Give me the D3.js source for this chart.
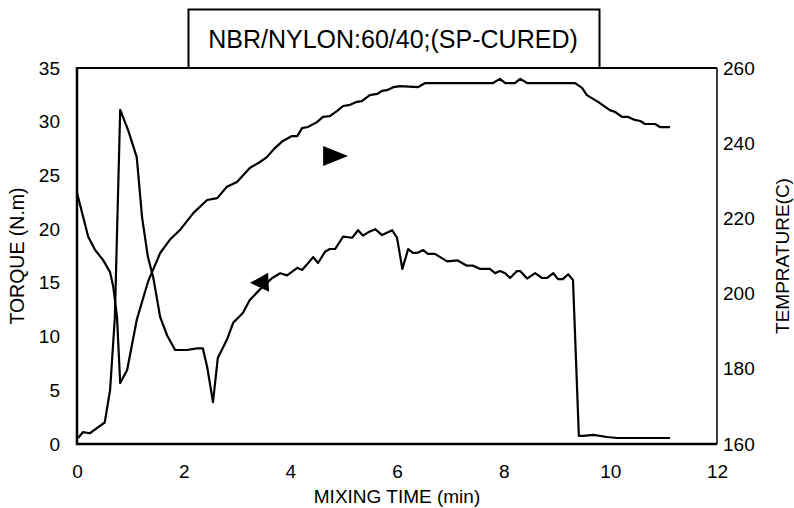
<!DOCTYPE html>
<html>
<head>
<meta charset="utf-8">
<script src="https://cdn.jsdelivr.net/npm/d3@7"></script>
<style>
  html, body { margin: 0; padding: 0; background: #fff; }
  svg { display: block; }
  text { font-family: "Liberation Sans", Arial, sans-serif; fill: #000; }
</style>
</head>
<body>
<svg id="chart" width="794" height="508"></svg>
<script>
// Mixing torque (N.m) against time (min)
const torqueTime = [
  0.02, 0.11, 0.24, 0.38, 0.52, 0.62, 0.71, 0.81, 0.96, 1.12,
  1.22, 1.33, 1.43, 1.56, 1.69, 1.84, 2.06, 2.25, 2.36, 2.44,
  2.55, 2.64, 2.81, 2.93, 3.11, 3.24, 3.47, 3.56, 3.66, 3.81,
  3.94, 4.13, 4.22, 4.31, 4.43, 4.52, 4.65, 4.74, 4.84, 4.99,
  5.16, 5.27, 5.36, 5.46, 5.59, 5.72, 5.91, 6.00, 6.10, 6.21,
  6.30, 6.39, 6.49, 6.58, 6.71, 6.81, 6.94, 7.13, 7.31, 7.43,
  7.56, 7.74, 7.84, 7.93, 8.03, 8.12, 8.25, 8.31, 8.44, 8.59,
  8.72, 8.81, 8.93, 9.02, 9.11, 9.21, 9.30, 9.41, 9.49, 9.68,
  9.94, 10.13, 10.56, 11.12
];
const torqueValues = [
  0.56, 1.1, 1.0, 1.5, 2.0, 5.0, 11.8, 31.1, 29.2, 26.7,
  21.1, 17.4, 15.5, 11.8, 10.1, 8.75, 8.75, 8.9, 8.9, 7.2,
  3.9, 8.0, 9.7, 11.3, 12.2, 13.4, 14.6, 15.0, 15.45, 15.9,
  15.7, 16.4, 16.2, 16.7, 17.4, 16.85, 17.9, 18.15, 18.15, 19.3,
  19.2, 19.9, 19.4, 19.7, 20.0, 19.45, 19.9, 19.2, 16.3, 18.15,
  17.8, 17.8, 18.05, 17.7, 17.7, 17.4, 17.0, 17.1, 16.6, 16.6,
  16.3, 16.3, 15.9, 16.1, 15.9, 15.45, 16.1, 16.1, 15.4, 15.9,
  15.45, 15.45, 15.9, 15.35, 15.35, 15.8, 15.25, 0.75, 0.75, 0.85,
  0.65, 0.56, 0.56, 0.56
];

// Stock temperature (C) against time (min)
const tempTime = [
  0.00, 0.21, 0.34, 0.49, 0.62, 0.68, 0.75, 0.81, 0.94, 1.12,
  1.33, 1.56, 1.74, 1.93, 2.18, 2.44, 2.63, 2.81, 3.00, 3.24,
  3.43, 3.56, 3.71, 3.86, 4.03, 4.13, 4.22, 4.33, 4.50, 4.61,
  4.74, 4.88, 4.99, 5.12, 5.25, 5.34, 5.49, 5.63, 5.72, 5.81,
  5.93, 6.06, 6.39, 6.53, 7.80, 7.93, 8.03, 8.21, 8.31, 8.44,
  9.34, 9.47, 9.56, 9.77, 9.99, 10.09, 10.22, 10.33, 10.46, 10.56,
  10.65, 10.84, 10.93, 11.12
];
const tempValues = [
  226.8, 215.1, 211.6, 208.9, 205.7, 201.8, 193.8, 176.2, 179.7, 193.0,
  203.1, 210.8, 214.3, 216.9, 221.4, 224.9, 225.4, 228.4, 229.7, 233.4,
  235.0, 236.3, 238.7, 240.6, 241.9, 241.9, 244.0, 244.3, 245.6, 247.0,
  247.2, 248.6, 249.9, 250.2, 251.0, 251.2, 252.8, 253.1, 253.9, 254.1,
  254.9, 255.2, 254.9, 256.0, 256.0, 257.1, 256.0, 256.0, 257.1, 256.0,
  256.0, 254.7, 252.8, 251.0, 248.8, 248.3, 247.0, 247.0, 246.2, 245.9,
  245.1, 245.1, 244.3, 244.3
];

// Axis ticks
const timeTicks = [0, 2, 4, 6, 8, 10, 12];
const torqueTicks = [0, 5, 10, 15, 20, 25, 30, 35];
const tempTicks = [160, 180, 200, 220, 240, 260];

// Direction markers: which curve reads on which axis
const torqueMarker = { time: 3.47, value: 15.0 };
const tempMarker = { time: 4.84, value: 236.6 };

const chartTitle = "NBR/NYLON:60/40;(SP-CURED)";

const svg = d3.select("#chart");
const plotLeft = 77, plotRight = 717, plotTop = 68, plotBottom = 444;

const x = d3.scaleLinear().domain([0, 12]).range([plotLeft, plotRight]);
const yT = d3.scaleLinear().domain([0, 35]).range([plotBottom, plotTop]);
const yC = d3.scaleLinear().domain([160, 260]).range([plotBottom, plotTop]);

// Title box sitting on the plot frame
svg.append("rect")
  .attr("x", 188.5).attr("y", 9.5)
  .attr("width", 411).attr("height", plotTop - 9.5)
  .attr("fill", "#fff").attr("stroke", "#000").attr("stroke-width", 2);
svg.append("text")
  .attr("x", 393).attr("y", 48)
  .attr("text-anchor", "middle")
  .style("font-size", "25px")
  .text(chartTitle);

// Plot frame
svg.append("line").attr("x1", plotLeft).attr("x2", plotRight).attr("y1", plotTop).attr("y2", plotTop)
  .attr("stroke", "#000").attr("stroke-width", 2);
svg.append("line").attr("x1", plotRight).attr("x2", plotRight).attr("y1", plotTop).attr("y2", plotBottom)
  .attr("stroke", "#000").attr("stroke-width", 1.5);
svg.append("line").attr("x1", plotLeft).attr("x2", plotLeft).attr("y1", plotTop - 1).attr("y2", plotBottom + 1)
  .attr("stroke", "#000").attr("stroke-width", 2.5);
svg.append("line").attr("x1", plotLeft - 1).attr("x2", plotRight).attr("y1", plotBottom).attr("y2", plotBottom)
  .attr("stroke", "#000").attr("stroke-width", 2.5);

// Axes (labels only, frame drawn above)
const styleAxis = g => {
  g.select(".domain").remove();
  g.selectAll(".tick line").remove();
  g.selectAll(".tick text")
    .style("font-family", '"Liberation Sans", Arial, sans-serif')
    .style("font-size", "19px").attr("fill", "#000");
};

svg.append("g").attr("transform", `translate(0,${plotBottom})`)
  .call(d3.axisBottom(x).tickValues(timeTicks).tickSize(0).tickPadding(21).tickFormat(d3.format("d")))
  .call(styleAxis);

svg.append("g").attr("transform", `translate(${plotLeft},0)`)
  .call(d3.axisLeft(yT).tickValues(torqueTicks).tickSize(0).tickPadding(17).tickFormat(d3.format("d")))
  .call(styleAxis);

svg.append("g").attr("transform", `translate(${plotRight},0)`)
  .call(d3.axisRight(yC).tickValues(tempTicks).tickSize(0).tickPadding(6).tickFormat(d3.format("d")))
  .call(styleAxis);

// Axis titles
svg.append("text")
  .attr("x", (plotLeft + plotRight) / 2).attr("y", 503)
  .attr("text-anchor", "middle")
  .style("font-size", "19px")
  .text("MIXING TIME (min)");

svg.append("text")
  .attr("transform", `translate(24,${(plotTop + plotBottom) / 2}) rotate(-90)`)
  .attr("text-anchor", "middle")
  .style("font-size", "19.5px")
  .text("TORQUE (N.m)");

svg.append("text")
  .attr("transform", `translate(789,${(plotTop + plotBottom) / 2}) rotate(-90)`)
  .attr("text-anchor", "middle")
  .style("font-size", "19px")
  .text("TEMPRATURE(C)");

// Curves
const torqueData = torqueTime.map((t, i) => ({ t, v: torqueValues[i] }));
const tempData = tempTime.map((t, i) => ({ t, v: tempValues[i] }));

svg.append("path")
  .datum(tempData)
  .attr("fill", "none").attr("stroke", "#000").attr("stroke-width", 2.2)
  .attr("stroke-linejoin", "round")
  .attr("d", d3.line().x(d => x(d.t)).y(d => yC(d.v)));

svg.append("path")
  .datum(torqueData)
  .attr("fill", "none").attr("stroke", "#000").attr("stroke-width", 2.2)
  .attr("stroke-linejoin", "round")
  .attr("d", d3.line().x(d => x(d.t)).y(d => yT(d.v)));

// Arrowheads: left-pointing for torque axis, right-pointing for temperature axis
svg.append("path")
  .attr("transform", `translate(${x(torqueMarker.time)},${yT(torqueMarker.value)})`)
  .attr("d", "M-12,0 L6,-10 L7,9 Z")
  .attr("fill", "#000");

svg.append("path")
  .attr("transform", `translate(${x(tempMarker.time)},${yC(tempMarker.value)})`)
  .attr("d", "M13,0 L-12,-10 L-12,10 Z")
  .attr("fill", "#000");
</script>
</body>
</html>
